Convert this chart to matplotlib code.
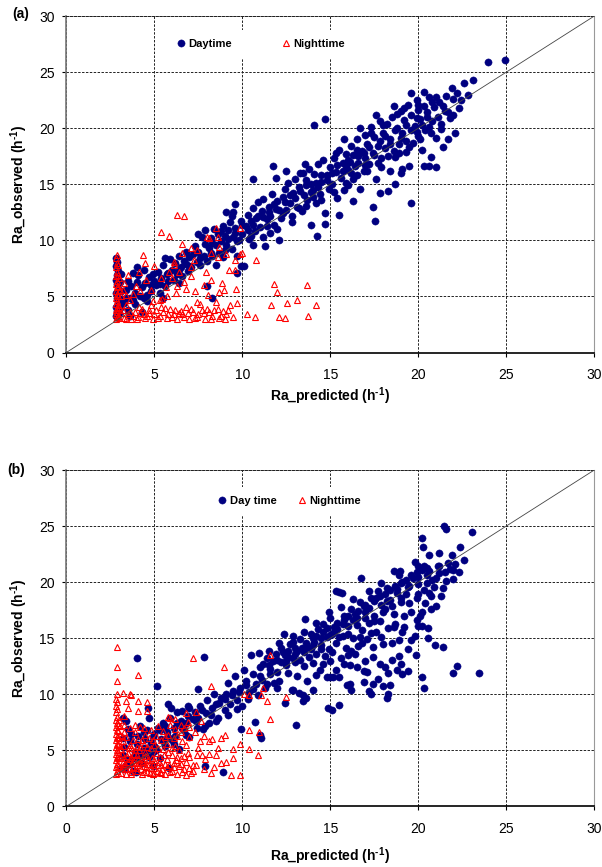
import numpy as np
import matplotlib
matplotlib.use("Agg")
import matplotlib.pyplot as plt

plt.rcParams['font.family'] = ['Liberation Sans', 'DejaVu Sans']
plt.rcParams['mathtext.fontset'] = 'custom'
plt.rcParams['mathtext.rm'] = 'Liberation Sans:bold'
plt.rcParams['mathtext.bf'] = 'Liberation Sans:bold'

# ---- data (x = Ra_predicted, y = Ra_observed) ----
ticks = [0, 5, 10, 15, 20, 25, 30]
one_to_one = [0, 30]

day_a = [
    (2.85, 3.3), (2.9, 3.7), (2.85, 4.1), (2.95, 4.5), (2.9, 4.9), (2.85, 5.3), (2.95, 5.7), (2.9, 6.1),
    (2.85, 6.5), (2.9, 6.9), (2.95, 7.3), (2.85, 7.7), (2.9, 8.1), (2.85, 8.4), (3.05, 4.0), (3.1, 5.5),
    (3.05, 6.3), (3.1, 7.0), (3.0, 3.5), (3.15, 4.8),
    (3.3, 4.4), (3.4, 5.6), (3.5, 3.8), (3.5, 6.4), (3.6, 4.9), (3.7, 5.9), (3.8, 7.1), (3.9, 4.3),
    (3.9, 5.3), (4.0, 6.3), (4.1, 6.9), (4.2, 5.0), (4.3, 5.8), (4.4, 7.4), (4.5, 6.2), (4.6, 4.6),
    (4.7, 6.7), (4.8, 5.5), (4.9, 7.0), (5.0, 6.4), (4.3, 3.6), (3.6, 3.3), (4.6, 5.1), (4.0, 7.6),
    (5.1, 6.0), (5.2, 7.2), (5.3, 5.3), (5.4, 6.6), (5.5, 7.8), (5.6, 5.9), (5.7, 7.0), (5.8, 6.4),
    (5.9, 8.3), (6.0, 7.4), (5.5, 4.9), (5.6, 8.4),
    (6.1, 6.5), (6.2, 8.0), (6.3, 7.0), (6.4, 8.6), (6.5, 7.6), (6.6, 6.8), (6.7, 8.2), (6.8, 9.0),
    (6.9, 7.3), (7.0, 8.5), (6.4, 6.2), (6.8, 7.9),
    (7.1, 7.6), (7.2, 8.8), (7.3, 9.5), (7.4, 8.1), (7.5, 9.0), (7.6, 7.8), (7.7, 10.3), (7.8, 8.6),
    (7.9, 9.7), (8.0, 8.2), (7.5, 10.6), (7.9, 10.9), (8.0, 5.9), (8.3, 4.9),
    (8.1, 9.3), (8.2, 10.2), (8.3, 8.6), (8.4, 11.0), (8.5, 9.6), (8.6, 10.6), (8.7, 8.9), (8.8, 9.9),
    (8.9, 11.3), (9.0, 10.4), (8.5, 7.8), (8.9, 8.5), (9.05, 12.5), (9.5, 12.5), (9.56, 13.2),
    (9.1, 9.6), (9.2, 10.9), (9.3, 11.6), (9.4, 9.2), (9.5, 10.3), (9.6, 11.1), (9.7, 8.6), (9.8, 10.0),
    (9.9, 11.7), (10.0, 10.6), (9.7, 7.1), (9.9, 7.7), (10.1, 7.7), (9.4, 12.2),
    (10.2, 11.3), (10.3, 12.3), (10.4, 10.1), (10.5, 11.7), (10.6, 12.9), (10.7, 10.8), (10.8, 12.0),
    (10.9, 13.4), (11.0, 11.2), (10.6, 15.5), (10.6, 9.6),
    (11.1, 12.6), (11.2, 13.7), (11.3, 9.5), (11.4, 11.9), (11.5, 13.0), (11.6, 12.2), (11.7, 14.1),
    (11.8, 11.4), (11.9, 12.8), (12.0, 13.5), (11.74, 16.6), (11.9, 15.6), (12.1, 10.0), (11.6, 10.7),
    (12.2, 12.0), (12.3, 13.9), (12.4, 14.6), (12.5, 12.7), (12.6, 15.1), (12.7, 13.3), (12.8, 11.6),
    (12.9, 14.2), (13.0, 15.5), (12.5, 16.2), (12.8, 12.2),
    (13.1, 13.0), (13.2, 14.8), (13.3, 16.0), (13.4, 12.6), (13.5, 14.0), (13.6, 15.4), (13.7, 13.6),
    (13.8, 16.4), (13.9, 11.4), (14.0, 14.5), (13.45, 16.0), (13.55, 16.8), (13.9, 15.0),
    (14.1, 15.9), (14.2, 13.3), (14.3, 16.8), (14.4, 14.1), (14.5, 15.2), (14.6, 17.2), (14.7, 12.4),
    (14.8, 15.8), (14.9, 14.6), (15.0, 16.5), (14.08, 20.3), (14.7, 20.85), (14.27, 10.4), (14.7, 11.5),
    (14.5, 13.6),
    (15.1, 15.0), (15.2, 17.3), (15.3, 16.1), (15.4, 13.8), (15.5, 18.1), (15.6, 15.6), (15.7, 16.9),
    (15.8, 14.5), (15.9, 17.7), (16.0, 16.3), (15.5, 12.3), (15.8, 19.0), (16.0, 14.9),
    (16.1, 17.0), (16.2, 18.4), (16.3, 15.5), (16.4, 16.6), (16.5, 19.0), (16.6, 17.5), (16.7, 14.6),
    (16.8, 18.0), (16.9, 16.2), (17.0, 19.4), (16.3, 13.5), (16.7, 20.0), (17.0, 17.3),
    (17.1, 18.6), (17.2, 16.8), (17.3, 20.1), (17.4, 17.8), (17.5, 19.2), (17.55, 11.7), (17.6, 15.5),
    (17.7, 18.4), (17.8, 20.6), (17.9, 16.5), (18.0, 19.6), (17.4, 13.0), (17.8, 14.2), (17.6, 21.2),
    (18.1, 18.2), (18.2, 20.4), (18.3, 14.4), (18.4, 19.0), (18.5, 21.0), (18.67, 15.06), (18.7, 17.4),
    (18.8, 20.0), (18.9, 18.6), (19.0, 21.5), (18.4, 16.2), (19.0, 16.0), (18.6, 22.0),
    (19.1, 19.6), (19.2, 20.7), (19.3, 17.9), (19.4, 22.1), (19.56, 23.1), (19.6, 13.3), (19.6, 21.2),
    (19.7, 18.7), (19.8, 20.2), (19.9, 22.5), (20.0, 19.3), (19.5, 16.6), (20.0, 21.6), (19.1, 16.4),
    (20.1, 20.8), (20.2, 18.1), (20.3, 22.0), (20.4, 19.8), (20.5, 21.4), (20.6, 22.8), (20.7, 17.4),
    (20.8, 20.6), (20.9, 21.9), (21.0, 19.1), (20.3, 23.2), (21.0, 16.5), (20.3, 16.65), (20.6, 16.65),
    (21.2, 22.3), (21.3, 20.4), (21.5, 21.5), (21.6, 22.9), (21.8, 20.9), (22.0, 22.6), (22.1, 19.6),
    (22.2, 23.1), (22.3, 21.8), (22.6, 24.0), (23.1, 24.3), (21.7, 19.0), (21.4, 18.3),
    (23.94, 25.94), (24.93, 26.09),
    (8.3, 9.8), (8.8, 10.8), (9.2, 10.1), (9.6, 10.7), (10.0, 11.4), (10.3, 10.9), (10.6, 11.4),
    (10.9, 12.2), (11.2, 12.1), (11.5, 12.5), (11.8, 13.2), (12.1, 12.7), (12.4, 13.4), (12.7, 14.0),
    (13.0, 13.8), (13.3, 14.4), (13.6, 14.9), (13.9, 14.3), (14.2, 15.1), (14.5, 15.8), (14.8, 15.4),
    (15.1, 16.0), (15.4, 16.7), (15.7, 16.2), (16.0, 17.2), (16.3, 17.6), (16.6, 16.9), (16.9, 17.8),
    (17.2, 18.3), (17.5, 17.6), (17.8, 18.9), (18.1, 19.3), (18.4, 18.6), (18.7, 19.8), (19.0, 19.1),
    (19.3, 20.3), (19.6, 19.8), (19.9, 20.9), (20.2, 20.3), (20.5, 21.0), (20.8, 22.3), (21.1, 21.0),
    (21.4, 22.0), (21.7, 21.4), (22.0, 21.2), (15.2, 14.3), (15.9, 15.1), (16.5, 15.8), (17.1, 16.2),
    (17.7, 16.9), (18.3, 17.5), (18.9, 17.8), (19.5, 18.3), (20.1, 19.0), (20.7, 19.6), (21.3, 19.9),
    (16.2, 16.0), (17.0, 16.7), (17.9, 17.3), (18.6, 18.0), (19.3, 18.9), (19.9, 19.7), (20.6, 20.1),
    (14.0, 13.9), (13.2, 12.9), (12.3, 12.4), (11.4, 11.3), (10.5, 10.4), (9.7, 9.9), (9.0, 9.1),
    (8.2, 8.9), (7.6, 8.4), (7.0, 7.7), (6.4, 7.4), (5.8, 7.1), (5.3, 6.1), (4.8, 6.0), (4.4, 4.9),
    (3.8, 4.7), (3.4, 4.9), (17.3, 19.6), (18.0, 20.3), (18.8, 21.3), (16.5, 18.1), (15.9, 16.6),
    (15.3, 17.8), (14.3, 14.8), (13.6, 13.1), (12.0, 11.0), (11.2, 10.3), (22.4, 22.5), (22.8, 23.0),
    (21.9, 23.6), (20.0, 22.1), (19.2, 21.8), (21.0, 22.8),
]

night_a = [
    (2.85, 3.0), (2.9, 3.2), (2.85, 3.4), (2.9, 3.6), (2.85, 3.8), (2.9, 4.0), (2.85, 4.3), (2.9, 4.6),
    (2.85, 4.9), (2.9, 5.2), (2.85, 5.5), (2.9, 5.8), (2.85, 6.1), (2.9, 6.4), (2.85, 6.8), (2.9, 7.2),
    (2.85, 7.6), (2.9, 8.0), (2.85, 8.4), (2.9, 8.7), (3.0, 3.1), (3.1, 3.5), (3.0, 4.1), (3.1, 5.0),
    (3.05, 5.6), (3.0, 6.6),
    (3.3, 3.1), (3.5, 3.4), (3.7, 3.0), (3.9, 3.6), (4.1, 3.2), (4.3, 3.9), (4.5, 3.1), (4.7, 3.5),
    (4.9, 3.0), (5.1, 3.8), (5.3, 3.3), (5.5, 3.6), (5.7, 3.1), (5.9, 3.9), (6.1, 3.4), (6.3, 3.0),
    (6.5, 3.7), (6.7, 3.2), (6.9, 3.5), (7.1, 3.9), (7.3, 3.1), (7.5, 3.4), (7.7, 3.8), (7.9, 3.0),
    (8.1, 3.6), (8.3, 3.3), (8.5, 4.5), (8.7, 3.1), (8.9, 3.7), (9.1, 3.4), (9.3, 4.2), (9.5, 3.2),
    (9.7, 4.4), (4.0, 3.0), (5.0, 3.4), (6.0, 3.2), (7.0, 3.0), (8.0, 3.9), (9.0, 3.0), (6.8, 4.1),
    (7.6, 4.3), (5.6, 4.0), (4.4, 3.4), (6.4, 3.5), (7.2, 3.6), (8.6, 3.9),
    (8.04, 5.1), (7.45, 4.5), (8.7, 5.4), (8.97, 5.6), (9.66, 5.7), (8.86, 6.2), (8.2, 6.5), (7.95, 7.2),
    (9.24, 7.4), (9.56, 7.4), (9.56, 8.25), (9.85, 8.8), (9.1, 8.8), (8.6, 8.5), (8.2, 8.9), (8.7, 9.4),
    (8.0, 10.3), (8.5, 11.1), (7.1, 9.3), (6.6, 9.7), (7.4, 9.1), (7.25, 8.25), (7.1, 7.6), (6.6, 8.85),
    (6.1, 8.1), (6.1, 7.8), (5.86, 7.2), (6.4, 7.2), (7.1, 6.8), (6.8, 5.7), (6.3, 5.9), (6.24, 5.3),
    (5.67, 5.8), (5.39, 6.6), (5.0, 7.7), (4.15, 7.2), (4.54, 6.5), (3.5, 6.9), (3.97, 5.9), (3.3, 6.2),
    (3.6, 4.7), (4.15, 4.1), (4.7, 3.8), (5.3, 4.7), (5.45, 4.8), (4.8, 5.6), (3.2, 5.6), (8.6, 10.3),
    (8.1, 10.2), (9.88, 11.06),
    (11.65, 4.26), (11.8, 6.1), (11.95, 5.44), (12.07, 3.2), (12.4, 3.1), (12.56, 4.4), (13.1, 4.7),
    (13.7, 6.0), (13.76, 3.3), (14.2, 4.2), (10.26, 3.4), (10.7, 3.2), (10.8, 8.25), (9.98, 8.85),
    (6.28, 12.24), (6.68, 12.18), (5.39, 10.77), (5.86, 10.38), (4.36, 8.72), (4.46, 7.96),
    (2.95, 3.3), (2.95, 4.2), (2.95, 5.0), (2.95, 5.9), (2.95, 6.9), (2.95, 7.8), (3.2, 3.8), (3.4, 4.2),
    (3.4, 3.0), (3.6, 3.6), (3.8, 3.3), (4.2, 3.5), (4.6, 3.3), (4.8, 4.2), (5.2, 3.1), (5.4, 4.1),
    (5.8, 3.4), (6.2, 3.8), (6.6, 3.4), (7.4, 3.2), (7.8, 3.5), (8.2, 3.0), (8.4, 3.8), (8.8, 3.3),
    (9.2, 3.8), (3.8, 5.2), (4.2, 5.5), (3.4, 5.1), (4.9, 4.6), (5.7, 5.0), (6.0, 6.6), (6.7, 6.3),
    (7.3, 5.5), (7.8, 6.0),
]

day_b = [
    (3.1, 3.4), (3.2, 4.6), (3.3, 5.3), (3.2, 6.1), (3.4, 7.6), (3.2, 7.9), (3.49, 6.9), (3.5, 4.1),
    (3.6, 5.8), (3.7, 6.5), (3.8, 3.2), (3.9, 4.9), (4.0, 5.6), (3.97, 3.05), (4.1, 6.3), (4.15, 4.7),
    (4.2, 7.2), (4.3, 3.9), (4.4, 5.2), (4.5, 6.0), (4.6, 6.8), (4.63, 8.76), (4.72, 7.9), (4.7, 4.4),
    (4.8, 5.7), (4.9, 3.6), (5.0, 6.5), (5.1, 5.0), (5.14, 10.7), (5.2, 7.0), (5.3, 4.3), (5.4, 6.0),
    (5.5, 7.4), (5.6, 5.4), (5.7, 6.6), (5.77, 9.17), (5.82, 3.4), (5.9, 7.9), (5.96, 8.8), (6.0, 5.9),
    (6.1, 7.0), (6.2, 6.3), (6.3, 8.4), (6.43, 5.1), (6.5, 7.6), (6.6, 8.5), (6.7, 6.8), (6.8, 7.4),
    (6.9, 9.0), (7.0, 8.8), (7.0, 6.2), (7.2, 7.8), (7.38, 7.6), (7.47, 10.5), (7.5, 7.9), (7.57, 8.96),
    (7.76, 6.9), (7.84, 13.3), (7.9, 3.6), (7.95, 8.37), (8.0, 9.5), (8.1, 7.4), (8.3, 8.8), (8.4, 10.0),
    (8.5, 9.1), (8.6, 7.9), (8.8, 9.7), (8.92, 3.1), (9.0, 8.6), (9.1, 10.0), (9.2, 11.0), (9.3, 9.1),
    (9.47, 10.3), (9.6, 11.6), (9.7, 9.5), (9.85, 10.6), (9.9, 6.9), (10.0, 9.0), (10.1, 12.2),
    (10.23, 11.2), (10.4, 10.2), (10.5, 13.55), (10.6, 11.8), (10.7, 7.5), (10.8, 10.9), (10.95, 13.7),
    (10.98, 12.4), (11.04, 6.15), (11.0, 6.4), (4.04, 13.25),
    (4.4, 6.6), (4.9, 6.2), (5.3, 6.8), (5.6, 7.2), (5.8, 6.2), (6.3, 7.4), (6.6, 7.0), (6.9, 8.1),
    (7.3, 8.4), (7.7, 8.6), (8.2, 8.2), (8.7, 9.2), (9.0, 9.6), (9.4, 9.9), (9.8, 10.2), (10.2, 10.8),
    (10.6, 10.5), (11.0, 11.6), (5.0, 5.4), (4.6, 5.0), (4.0, 4.4), (3.6, 3.8), (3.3, 3.3),
    (11.1, 11.3), (11.2, 12.7), (11.3, 10.6), (11.4, 13.2), (11.55, 11.8), (11.6, 12.3), (11.74, 12.95),
    (11.8, 11.0), (11.9, 13.6), (12.0, 12.0), (12.1, 11.2), (12.2, 14.1), (12.3, 13.8), (12.35, 15.4),
    (12.4, 9.25), (12.5, 12.6), (12.6, 13.3), (12.7, 14.5), (12.8, 10.4), (12.9, 14.7), (12.9, 10.4),
    (13.0, 12.9), (13.03, 7.25), (13.1, 13.9), (13.2, 10.1), (13.3, 14.9), (13.45, 9.4), (13.45, 9.9),
    (13.5, 12.5), (13.55, 16.7), (13.6, 9.7), (13.7, 14.2), (13.8, 13.3), (13.9, 15.4), (14.0, 10.4),
    (14.0, 12.8), (14.1, 14.7), (14.2, 13.6), (14.3, 15.8), (14.4, 12.2), (14.5, 14.4), (14.6, 16.3),
    (14.7, 13.4), (14.8, 11.5), (14.8, 15.1), (14.86, 8.8), (14.9, 14.0), (14.97, 11.5), (15.0, 16.8),
    (15.1, 8.6), (15.1, 13.8), (15.15, 11.5), (15.2, 15.6), (15.3, 14.6), (15.35, 19.2), (15.4, 16.4),
    (15.5, 9.05), (15.5, 11.5), (15.5, 19.1), (15.6, 13.2), (15.7, 15.2), (15.69, 19.0), (15.8, 17.0),
    (15.9, 14.1), (15.95, 10.8), (16.0, 16.1), (16.1, 10.9), (16.1, 12.6), (16.2, 10.4), (16.2, 17.6),
    (16.3, 15.0), (16.4, 13.6), (16.5, 16.8), (16.6, 14.3), (16.7, 18.2), (16.77, 20.4), (16.8, 15.7),
    (16.9, 12.1), (17.0, 17.3),
    (17.1, 14.9), (17.2, 10.3), (17.2, 16.4), (17.3, 10.0), (17.3, 18.6), (17.4, 10.9), (17.4, 13.3),
    (17.5, 17.0), (17.6, 15.6), (17.7, 19.2), (17.8, 12.7), (17.8, 16.5), (17.9, 18.0), (18.0, 10.7),
    (18.0, 14.5), (18.1, 17.6), (18.2, 9.7), (18.2, 19.5), (18.3, 10.0), (18.3, 15.9), (18.4, 10.8),
    (18.4, 18.4), (18.5, 13.1), (18.6, 17.2), (18.6, 21.0), (18.7, 16.3), (18.8, 12.2), (18.8, 19.0),
    (18.9, 14.8), (19.0, 12.7), (19.0, 18.2), (19.05, 11.8), (18.95, 21.0),
    (19.1, 20.0), (19.2, 16.0), (19.3, 18.9), (19.4, 14.0), (19.5, 19.7), (19.6, 17.3), (19.7, 20.4),
    (19.8, 15.2), (19.86, 13.5), (19.9, 18.6), (20.0, 21.45), (20.0, 19.8), (20.1, 17.0), (20.2, 23.9),
    (20.2, 11.5), (20.2, 17.3), (20.24, 23.1), (20.3, 10.6), (20.3, 19.3), (20.4, 18.1), (20.5, 20.6),
    (20.55, 15.0), (20.55, 15.9), (20.6, 19.0), (20.7, 18.8), (20.8, 20.2), (20.9, 19.6), (20.96, 14.4),
    (21.0, 17.9), (20.35, 21.45),
    (21.1, 21.4), (21.15, 21.45), (21.3, 18.8), (21.4, 14.2), (21.4, 19.5), (21.47, 25.0), (21.57, 24.7),
    (21.7, 21.7), (21.8, 21.15), (21.95, 20.3), (22.0, 11.86), (22.1, 21.65), (22.2, 12.5), (22.35, 23.1),
    (23.03, 24.5), (23.43, 11.86),
    (12.2, 12.9), (12.6, 13.9), (13.0, 13.6), (13.3, 13.1), (13.6, 14.6), (13.9, 14.0), (14.2, 15.2),
    (14.5, 15.0), (14.8, 15.9), (15.1, 15.4), (15.4, 15.8), (15.7, 16.3), (16.0, 17.0), (16.3, 16.6),
    (16.6, 17.4), (16.9, 17.9), (17.2, 17.7), (17.5, 18.3), (17.8, 18.8), (18.1, 18.9), (18.4, 19.3),
    (18.7, 19.7), (19.0, 19.9), (19.3, 20.2), (19.6, 20.6), (19.9, 20.9), (20.2, 21.1), (20.5, 21.3),
    (12.4, 13.5), (12.9, 13.2), (13.4, 14.1), (14.0, 14.4), (14.6, 15.6), (15.2, 16.0), (15.8, 16.6),
    (16.4, 17.2), (17.0, 18.0), (17.6, 18.6), (18.2, 18.3), (18.8, 19.4), (19.4, 19.6), (20.0, 20.5),
    (20.6, 21.0), (21.2, 20.8),
    (11.5, 12.6), (12.0, 13.1), (12.5, 13.0), (13.0, 14.1), (13.5, 13.8), (14.0, 15.0), (14.5, 14.0),
    (15.0, 15.3), (15.5, 15.1), (16.0, 15.4), (16.5, 16.2), (17.0, 16.8), (17.5, 16.5), (18.0, 17.3),
    (18.5, 17.9), (19.0, 18.6), (19.5, 18.1), (20.0, 18.9), (20.5, 19.9), (21.0, 20.4), (21.5, 20.9),
    (22.0, 21.1), (16.2, 13.9), (16.8, 14.6), (17.4, 14.2), (17.9, 15.1), (18.5, 14.6), (19.1, 15.6),
    (19.6, 14.8), (20.2, 16.1), (15.8, 12.7), (16.5, 12.4), (17.1, 12.0), (17.7, 11.4), (18.3, 11.9),
    (18.9, 13.4), (19.4, 12.1), (19.9, 16.6), (15.3, 12.2), (14.6, 12.7), (16.9, 11.1), (18.1, 12.4),
    (17.0, 13.0), (16.0, 13.5), (15.0, 13.0), (14.2, 11.7), (13.7, 11.2), (13.1, 11.6), (12.6, 11.9),
    (12.0, 10.6), (11.4, 10.9), (10.9, 9.9), (10.3, 9.6), (9.7, 8.7), (9.2, 8.2), (8.5, 7.6), (7.9, 7.2),
    (7.4, 7.0), (6.8, 6.4), (6.1, 5.6), (5.5, 5.8), (4.9, 4.9), (4.3, 4.6), (3.8, 4.3), (3.4, 3.7),
    (20.6, 22.4), (21.2, 22.6), (19.8, 21.8), (21.9, 22.4), (18.9, 20.6), (17.9, 19.9), (17.2, 19.2),
    (16.3, 18.5), (15.6, 17.8), (14.9, 17.3), (14.2, 16.4), (13.5, 15.6), (12.9, 15.2), (12.1, 14.6),
    (11.5, 13.9), (21.6, 20.1), (22.6, 22.0), (22.3, 20.9), (20.7, 17.6), (20.0, 16.1), (19.2, 17.0),
    (18.6, 16.0), (17.3, 15.5), (16.7, 15.1),
]

night_b = [
    (2.85, 2.9), (2.9, 3.2), (2.85, 3.5), (2.9, 3.8), (2.85, 4.1), (2.9, 4.4), (2.85, 4.7), (2.9, 5.0),
    (2.85, 5.3), (2.9, 5.6), (2.85, 5.9), (2.9, 6.2), (2.85, 6.5), (2.9, 6.8), (2.85, 7.1), (2.9, 7.4),
    (2.85, 7.7), (2.9, 8.0), (2.85, 8.4), (2.9, 8.7), (2.85, 9.0), (2.9, 9.3), (2.85, 9.6), (2.9, 10.0),
    (2.9, 11.15), (2.9, 12.4), (2.9, 14.2),
    (3.2, 10.15), (3.6, 10.0), (3.7, 9.9), (3.4, 9.4), (4.1, 11.7), (4.57, 9.35), (4.6, 8.5), (4.1, 9.4),
    (4.05, 8.55), (3.3, 8.1), (3.0, 7.7), (3.5, 8.8),
    (3.1, 3.0), (3.2, 3.6), (3.3, 4.3), (3.1, 5.1), (3.2, 5.8), (3.3, 6.6), (3.4, 3.3), (3.5, 4.0),
    (3.5, 4.8), (3.6, 5.5), (3.4, 6.2), (3.6, 7.0), (3.7, 2.9), (3.8, 3.5), (3.7, 4.4), (3.9, 5.0),
    (3.8, 5.9), (3.9, 6.6), (4.0, 3.2), (4.1, 3.9), (4.0, 4.6), (4.2, 5.3), (4.1, 6.0), (4.2, 7.1),
    (4.3, 2.9), (4.4, 3.6), (4.3, 4.2), (4.5, 4.9), (4.4, 5.6), (4.5, 6.4), (4.6, 3.1), (4.7, 3.8),
    (4.6, 4.5), (4.8, 5.2), (4.7, 6.1), (4.8, 6.8), (4.9, 2.9), (5.0, 3.4), (5.0, 4.1), (5.1, 4.8),
    (5.0, 5.5), (5.1, 6.3), (5.2, 7.2), (5.3, 3.1), (5.4, 3.7), (5.3, 4.4), (5.5, 5.1), (5.4, 5.9),
    (5.5, 6.7), (5.6, 2.9), (5.7, 3.5), (5.7, 4.2), (5.8, 4.9), (5.7, 5.6), (5.8, 6.4), (5.9, 7.3),
    (6.0, 3.2), (6.1, 3.9), (6.0, 4.6), (6.2, 5.4), (6.1, 6.1), (6.2, 6.9), (6.3, 2.9), (6.4, 3.6),
    (6.5, 4.3), (6.4, 5.0), (6.6, 5.8), (6.5, 6.6), (6.7, 3.3), (6.8, 4.0), (6.9, 4.8), (6.8, 5.5),
    (7.0, 6.2), (6.9, 7.5), (7.1, 3.0), (7.2, 3.7),
    (3.15, 3.4), (3.25, 4.0), (3.15, 4.7), (3.25, 5.4), (3.15, 6.3), (3.35, 3.8), (3.45, 4.5), (3.55, 5.2),
    (3.65, 3.1), (3.75, 3.9), (3.85, 4.7), (3.95, 3.4), (4.05, 4.2), (4.15, 5.0), (4.25, 3.3), (4.35, 4.0),
    (4.45, 4.5), (4.55, 3.5), (4.65, 4.1), (4.75, 3.0), (4.85, 4.3), (4.95, 3.7), (5.15, 3.2), (5.25, 4.0),
    (5.45, 3.3), (5.55, 4.6), (5.85, 3.7), (6.25, 4.1), (6.55, 3.1), (6.95, 3.4),
    (7.19, 13.2), (8.95, 12.4), (11.6, 13.55), (8.23, 10.7), (10.07, 10.05), (10.4, 9.9), (11.08, 9.94),
    (11.2, 10.6), (11.42, 9.4), (12.5, 9.76), (11.55, 7.8), (10.38, 6.8), (10.94, 6.6), (10.4, 5.1),
    (10.9, 4.6), (9.89, 5.6), (9.47, 5.1), (9.47, 4.3), (9.37, 2.84), (9.89, 2.84), (8.38, 3.5),
    (8.23, 2.95), (8.8, 3.9), (8.77, 6.1), (8.1, 5.85), (8.3, 6.0), (7.6, 5.85), (8.1, 4.7), (7.7, 4.6),
    (7.4, 4.6), (7.38, 3.7), (7.2, 3.2), (6.8, 2.84), (7.66, 7.6), (7.38, 8.46), (6.8, 8.34), (5.8, 8.0),
    (5.9, 7.9), (6.5, 7.3), (7.0, 7.1), (6.2, 7.8), (7.5, 5.2), (7.9, 4.2), (8.5, 4.6), (7.8, 3.3),
    (8.6, 5.2), (9.1, 4.0), (9.0, 6.4), (7.3, 6.6), (7.8, 6.3),
    (2.95, 3.0), (2.95, 3.6), (2.95, 4.3), (2.95, 4.9), (2.95, 5.5), (2.95, 6.1), (2.95, 6.7), (2.95, 7.3),
    (3.05, 3.5), (3.05, 4.5), (3.05, 5.4), (3.05, 6.4), (3.05, 7.2), (3.4, 2.9), (3.6, 3.4), (3.8, 4.1),
    (3.6, 4.2), (4.0, 3.7), (4.2, 4.0), (4.4, 3.1), (4.6, 3.8), (4.8, 3.4), (5.0, 3.0), (5.2, 3.7),
    (5.4, 3.0), (5.6, 3.8), (5.9, 3.1), (6.1, 3.5), (6.3, 4.4), (6.5, 3.8), (6.7, 4.5), (7.0, 4.4),
    (3.7, 5.2), (4.0, 5.3), (4.3, 5.9), (4.6, 5.3), (4.9, 5.9), (5.2, 5.2), (5.6, 6.2), (6.0, 5.2),
    (6.3, 6.3), (6.7, 7.0), (3.9, 7.3), (4.4, 7.0), (3.3, 7.3),
]

panels = [
    ('(a)', day_a, night_a, 'Daytime', 'Nighttime'),
    ('(b)', day_b, night_b, 'Day time', 'Nighttime'),
]

axes_rects = [[0.1101, 0.5934, 0.8771, 0.3881], [0.1101, 0.0698, 0.8771, 0.3881]]
tag_pos = [(0.034, 0.9839), (0.0266, 0.4579)]
legend_pos = [(0.368, 0.916), (0.4225, 0.908)]
legend_gap = [4.5, 1.9]
xlabel_y = [-0.097, -0.117]

fig = plt.figure(figsize=(6.02, 8.67), dpi=100)

for i, (tag, day, night, day_lab, night_lab) in enumerate(panels):
    ax = fig.add_axes(axes_rects[i])
    d = np.array(day)
    n = np.array(night)

    ax.plot(d[:, 0], d[:, 1], 'o', color='#000080', ms=5.2, mew=0.3, label=day_lab, zorder=3)
    ax.plot(n[:, 0], n[:, 1], '^', mfc='none', mec='#ff0000', ms=4.2, mew=0.8, label=night_lab, zorder=3.2)
    ax.plot(one_to_one, one_to_one, color='#444444', lw=0.6, zorder=4)

    ax.set_xlim(0, 30)
    ax.set_ylim(0, 30)
    ax.set_xticks(ticks)
    ax.set_yticks(ticks)
    ax.set_axisbelow(True)
    ax.grid(True, color='#222222', linestyle=(0, (2.5, 1.5)), linewidth=0.7)

    ax.tick_params(axis='x', direction='out', length=3, width=0.8, pad=8, labelsize=10)
    ax.tick_params(axis='y', direction='out', length=3, width=0.8, pad=5.5, labelsize=10)

    ax.spines['top'].set_color('#222222')
    ax.spines['top'].set_linewidth(0.7)
    ax.spines['top'].set_linestyle((0, (2.5, 1.5)))
    ax.spines['right'].set_color('#999999')
    ax.spines['right'].set_linewidth(0.8)
    ax.spines['left'].set_color('#777777')
    ax.spines['left'].set_linewidth(1.2)
    ax.spines['bottom'].set_color('black')
    ax.spines['bottom'].set_linewidth(1.2)

    ax.set_xlabel(r'Ra_predicted (h$^{\text{-1}}$)', fontsize=10, fontweight='bold')
    ax.set_ylabel(r'Ra_observed (h$^{\text{-1}}$)', fontsize=10, fontweight='bold')
    ax.xaxis.set_label_coords(0.5, xlabel_y[i])
    ax.yaxis.set_label_coords(-0.069, 0.5)

    leg = ax.legend(loc='center', bbox_to_anchor=legend_pos[i], ncol=2, frameon=True,
                    facecolor='white', edgecolor='none', framealpha=1, fancybox=False,
                    prop={'size': 8, 'weight': 'bold'}, handlelength=0.8, handletextpad=0.25,
                    columnspacing=legend_gap[i], borderpad=0.8, numpoints=1)
    leg.set_zorder(5)

    fig.text(tag_pos[i][0], tag_pos[i][1], tag, fontsize=10, fontweight='bold', ha='center', va='center')

fig.savefig('out.png', dpi=100)
